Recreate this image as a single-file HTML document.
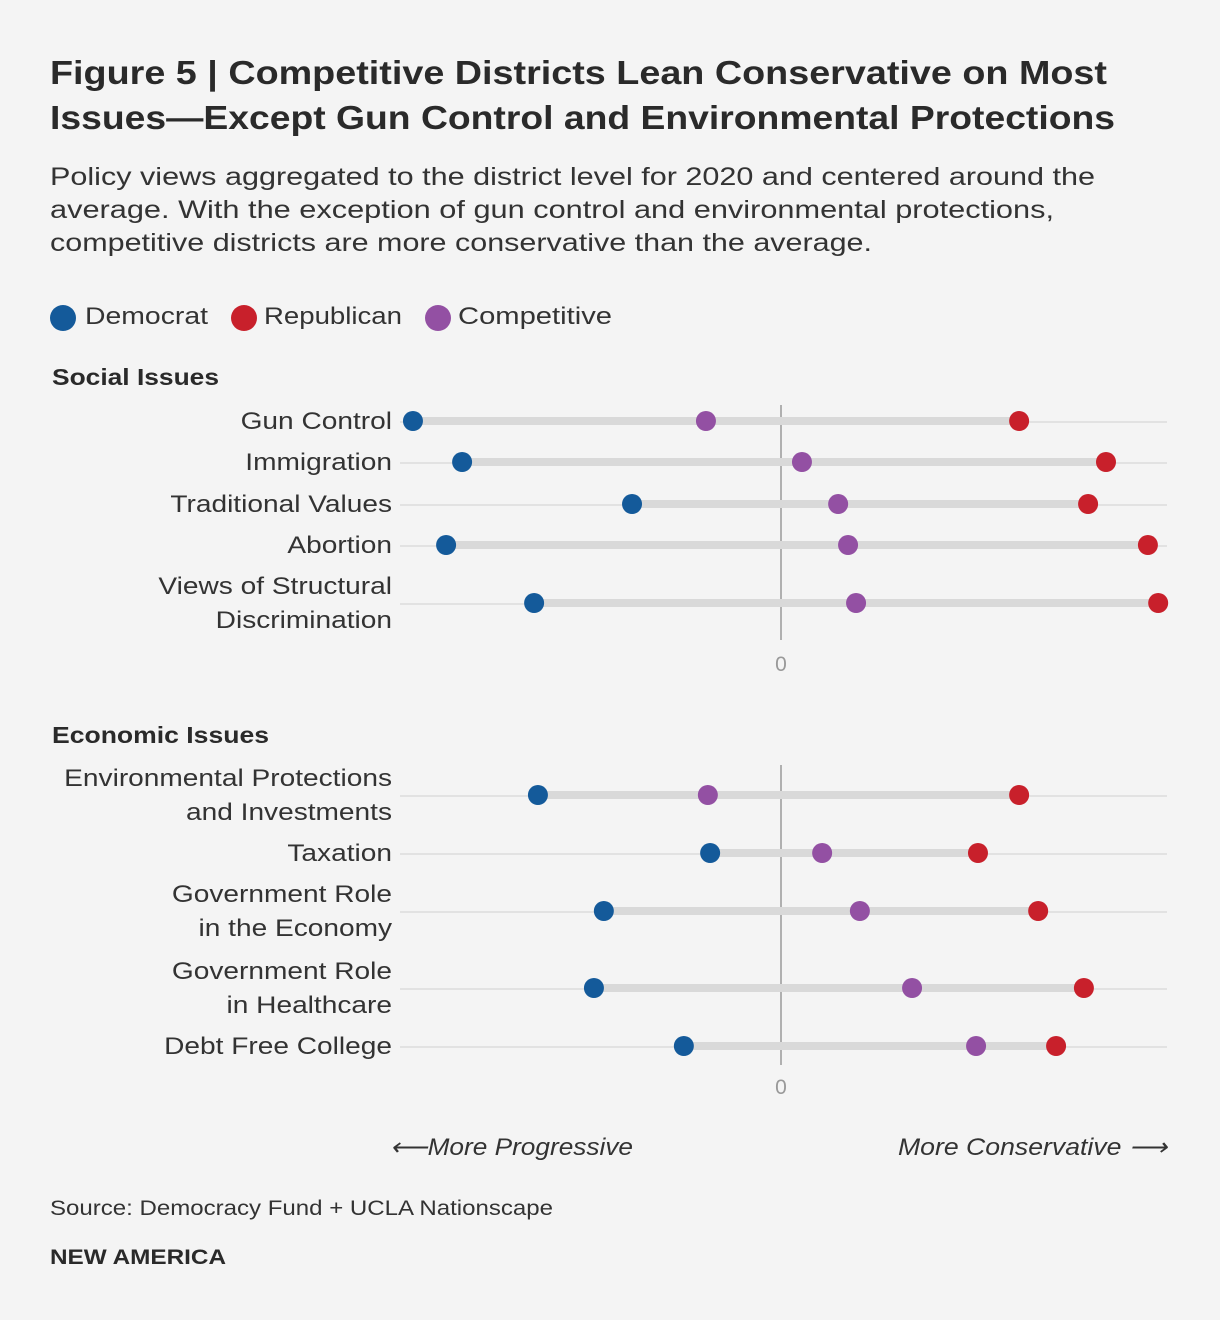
<!DOCTYPE html>
<html><head><meta charset="utf-8"><style>
body{margin:0;background:#f4f4f4;font-family:"Liberation Sans",sans-serif;}
#wrap{position:relative;width:1220px;height:1320px;background:#f4f4f4;}
</style></head><body>
<div id="wrap">
<svg id="chart" width="1220" height="1320" style="position:absolute;left:0;top:0">
<text x="50" y="84" font-size="33" font-weight="bold" fill="#2a2a2a" textLength="1057" lengthAdjust="spacingAndGlyphs">Figure 5 | Competitive Districts Lean Conservative on Most</text>
<text x="50" y="129" font-size="33" font-weight="bold" fill="#2a2a2a" textLength="1065" lengthAdjust="spacingAndGlyphs">Issues—Except Gun Control and Environmental Protections</text>
<text x="50" y="185" font-size="25" fill="#333" textLength="1045" lengthAdjust="spacingAndGlyphs">Policy views aggregated to the district level for 2020 and centered around the</text>
<text x="50" y="218" font-size="25" fill="#333" textLength="1004" lengthAdjust="spacingAndGlyphs">average. With the exception of gun control and environmental protections,</text>
<text x="50" y="251" font-size="25" fill="#333" textLength="822" lengthAdjust="spacingAndGlyphs">competitive districts are more conservative than the average.</text>
<g>
<circle cx="63" cy="318" r="13" fill="#145a9a"/>
<text x="85" y="324" font-size="24" fill="#333" textLength="123" lengthAdjust="spacingAndGlyphs">Democrat</text>
<circle cx="244" cy="318" r="13" fill="#c8202b"/>
<text x="264" y="324" font-size="24" fill="#333" textLength="138" lengthAdjust="spacingAndGlyphs">Republican</text>
<circle cx="438" cy="318" r="13" fill="#9350a3"/>
<text x="458" y="324" font-size="24" fill="#333" textLength="154" lengthAdjust="spacingAndGlyphs">Competitive</text>
</g>
<text x="52" y="385" font-size="23" font-weight="bold" fill="#2a2a2a" textLength="167" lengthAdjust="spacingAndGlyphs">Social Issues</text>
<text x="52" y="743" font-size="23" font-weight="bold" fill="#2a2a2a" textLength="217" lengthAdjust="spacingAndGlyphs">Economic Issues</text>
<text x="390" y="1155" font-size="24" font-style="italic" fill="#333" textLength="243" lengthAdjust="spacingAndGlyphs">⟵More Progressive</text>
<text x="898" y="1155" font-size="24" font-style="italic" fill="#333" textLength="269" lengthAdjust="spacingAndGlyphs">More Conservative ⟶</text>
<text x="50" y="1215" font-size="21" fill="#333" textLength="503" lengthAdjust="spacingAndGlyphs">Source: Democracy Fund + UCLA Nationscape</text>
<text x="50" y="1264" font-size="21" font-weight="bold" fill="#2a2a2a" textLength="176" lengthAdjust="spacingAndGlyphs">NEW AMERICA</text>
<g id="plot"></g>
</svg>
</div>
<script>
const socialLabels=[["Gun Control"],["Immigration"],["Traditional Values"],["Abortion"],["Views of Structural","Discrimination"]];
const socialDem=[-0.966,-0.837,-0.391,-0.879,-0.648];
const socialComp=[-0.197,0.055,0.150,0.176,0.197];
const socialRep=[0.625,0.853,0.806,0.963,0.990];
const econLabels=[["Environmental Protections","and Investments"],["Taxation"],["Government Role","in the Economy"],["Government Role","in Healthcare"],["Debt Free College"]];
const econDem=[-0.638,-0.186,-0.465,-0.491,-0.255];
const econComp=[-0.192,0.108,0.207,0.344,0.512];
const econRep=[0.625,0.517,0.675,0.795,0.722];
const zeroTick=["0"];

const NS="http://www.w3.org/2000/svg";
const plot=document.getElementById('plot');
const x=v=>781+v*381;
function mk(t,a){const e=document.createElementNS(NS,t);for(const k in a)e.setAttribute(k,a[k]);plot.appendChild(e);return e;}
function panel(name,labels,dem,comp,rep,rowsY,zTop,zBot,zLabelY){
  rowsY.forEach((y,i)=>{
    const g=mk('line',{x1:400,x2:1167,y1:y+1,y2:y+1,stroke:'#dcdcdc','stroke-width':1.5});
    
    
  });
  const z=mk('line',{x1:x(0),x2:x(0),y1:zTop,y2:zBot,stroke:'#999','stroke-width':1.5});
  
  
  const zt=mk('text',{x:x(0),y:zLabelY,'font-size':21,fill:'#999','text-anchor':'middle'});
  zt.textContent=zeroTick[0];
  
  
  rowsY.forEach((y,i)=>{
    const lines=labels[i];
    lines.forEach((l,j)=>{
      const t=mk('text',{x:392,y:y+8+(j-(lines.length-1)/2)*34,'font-size':24,fill:'#333','text-anchor':'end'});
      t.textContent=l;
      
      
      const w=t.getComputedTextLength();
      if(w>0){t.setAttribute('textLength',(w*1.17).toFixed(1));t.setAttribute('lengthAdjust','spacingAndGlyphs');}
    });
    const b=mk('line',{x1:x(dem[i]),x2:x(rep[i]),y1:y,y2:y,stroke:'#d9d9d9','stroke-width':8});
    
    
    [[dem,'#145a9a','democrat-dot'],[comp,'#9350a3','competitive-dot'],[rep,'#c8202b','republican-dot']].forEach(([arr,c,n])=>{
      const d=mk('circle',{cx:x(arr[i]),cy:y,r:10,fill:c});
      
      
    });
  });
}
panel('social',socialLabels,socialDem,socialComp,socialRep,[421,462,504,545,603],405,640,671);
panel('economic',econLabels,econDem,econComp,econRep,[795,853,911,988,1046],765,1065,1094);
</script>
</body></html>
